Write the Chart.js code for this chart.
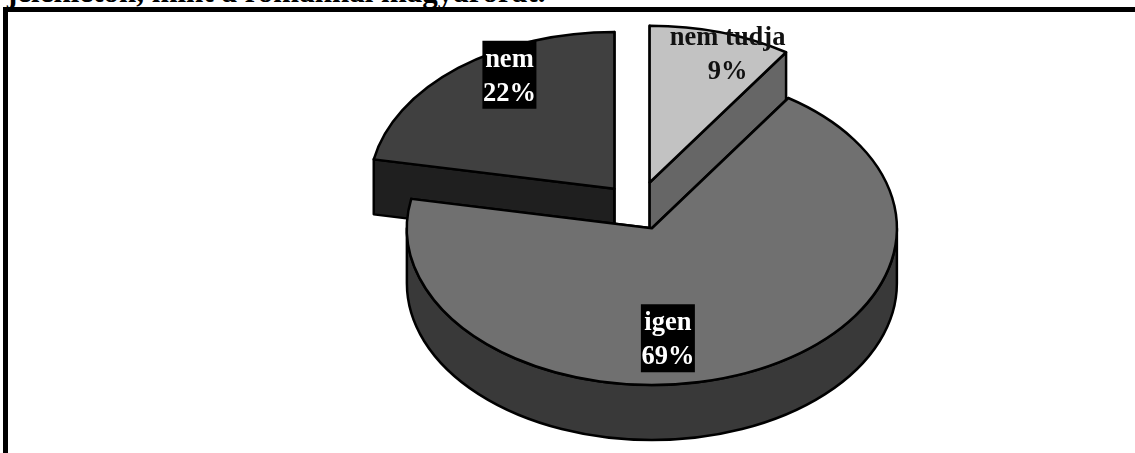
<!DOCTYPE html>
<html>
<head>
<meta charset="utf-8">
<script src="https://cdn.jsdelivr.net/npm/chart.js@4"></script>
<style>
body { margin: 0; background: #fff; overflow: hidden; }
#wrap { position: relative; width: 1135px; height: 453px; overflow: hidden; }
#frame { position: absolute; left: 3px; top: 7px; right: -10px; bottom: -10px; border-left: 5px solid #000; border-top: 5px solid #000; }
#heading { position: absolute; left: 7px; top: -26px; font: bold 31px "Liberation Serif", serif; white-space: nowrap; color: #000; }
canvas { position: absolute; left: 0; top: 0; }
</style>
</head>
<body>
<div id="wrap">
<div id="heading">jelenlétön, mint a románnal magyarórát.</div>
<div id="frame"></div>
<canvas id="pie" width="1135" height="453"></canvas>
</div>
<script>
const labels = ["igen", "nem", "nem tudja"]
const values = [68.6, 22, 9.4]

// look of the fake 3d pie
const topColors = ["#707070", "#404040", "#c2c2c2"]
const wallColors = ["#393939", "#1f1f1f", "#666666"]
const explode = [36, 37, 40]
const squash = 0.64
const depth = 55

// label box, relative to the tip of its slice
const labelDx = [16, -105, 78]
const labelTop = [76, -148, -164]
const labelBox = [true, true, false]

function sliceCenter(arc, i) {
       const mid = (arc.startAngle + arc.endAngle) / 2
       return {
              x: arc.x + Math.cos(mid) * explode[i],
              y: arc.y + Math.sin(mid) * explode[i] * squash
       }
}

function drawWall(ctx, arc, i) {
       const c = sliceCenter(arc, i)
       const r = arc.outerRadius
       const ry = r * squash

       ctx.fillStyle = wallColors[i]

       // the two flat cut faces
       ;[arc.startAngle, arc.endAngle].forEach(a => {
              const px = c.x + Math.cos(a) * r
              const py = c.y + Math.sin(a) * ry
              ctx.beginPath()
              ctx.moveTo(c.x, c.y)
              ctx.lineTo(px, py)
              ctx.lineTo(px, py + depth)
              ctx.lineTo(c.x, c.y + depth)
              ctx.closePath()
              ctx.fill()
              ctx.stroke()
       })

       // outer rim, only the part facing us
       const from = Math.max(arc.startAngle, 0)
       const to = Math.min(arc.endAngle, Math.PI)
       if (to > from) {
              ctx.beginPath()
              ctx.ellipse(c.x, c.y, r, ry, 0, from, to)
              ctx.ellipse(c.x, c.y + depth, r, ry, 0, to, from, true)
              ctx.closePath()
              ctx.fill()
              ctx.stroke()
       }
}

function drawTop(ctx, arc, i) {
       const c = sliceCenter(arc, i)

       ctx.save()
       ctx.translate(c.x, c.y)
       ctx.scale(1, squash)
       ctx.translate(-arc.x, -arc.y)
       arc.draw(ctx)
       ctx.restore()

       ctx.beginPath()
       ctx.moveTo(c.x, c.y)
       ctx.ellipse(c.x, c.y, arc.outerRadius, arc.outerRadius * squash, 0, arc.startAngle, arc.endAngle)
       ctx.closePath()
       ctx.stroke()
}

function drawLabel(ctx, arc, i) {
       const c = sliceCenter(arc, i)
       const x = c.x + labelDx[i]
       const top = c.y + labelTop[i]

       if (labelBox[i]) {
              ctx.fillStyle = "#000"
              ctx.fillRect(x - 27, top, 54, 68)
       }

       ctx.fillStyle = labelBox[i] ? "#fff" : "#111"
       ctx.font = 'bold 26.5px "Liberation Serif"'
       ctx.textAlign = "center"
       ctx.textBaseline = "alphabetic"
       ctx.fillText(labels[i], x, top + 26)
       ctx.fillText(Math.round(values[i]) + "%", x, top + 60)
}

const pie3d = {
       id: "pie3d",
       beforeDatasetsDraw(chart) {
              const ctx = chart.ctx
              const arcs = chart.getDatasetMeta(0).data

              ctx.save()
              ctx.strokeStyle = "#000"
              ctx.lineWidth = 2.5
              ctx.lineJoin = "round"

              // back slices first, igen lies over the others
              for (let i = arcs.length - 1; i >= 0; i--) {
                     drawWall(ctx, arcs[i], i)
                     drawTop(ctx, arcs[i], i)
              }

              arcs.forEach((arc, i) => drawLabel(ctx, arc, i))
              ctx.restore()

              return false
       }
}

new Chart(document.getElementById("pie"), {
       type: "pie",
       data: {
              labels: labels,
              datasets: [{
                     data: values,
                     backgroundColor: topColors,
                     borderWidth: 0,
                     radius: 245
              }]
       },
       options: {
              responsive: false,
              animation: false,
              events: [],
              rotation: 33.84,
              layout: { padding: { left: 141, bottom: 39 } },
              plugins: {
                     legend: { display: false },
                     tooltip: { enabled: false }
              }
       },
       plugins: [pie3d]
})
</script>
</body>
</html>
